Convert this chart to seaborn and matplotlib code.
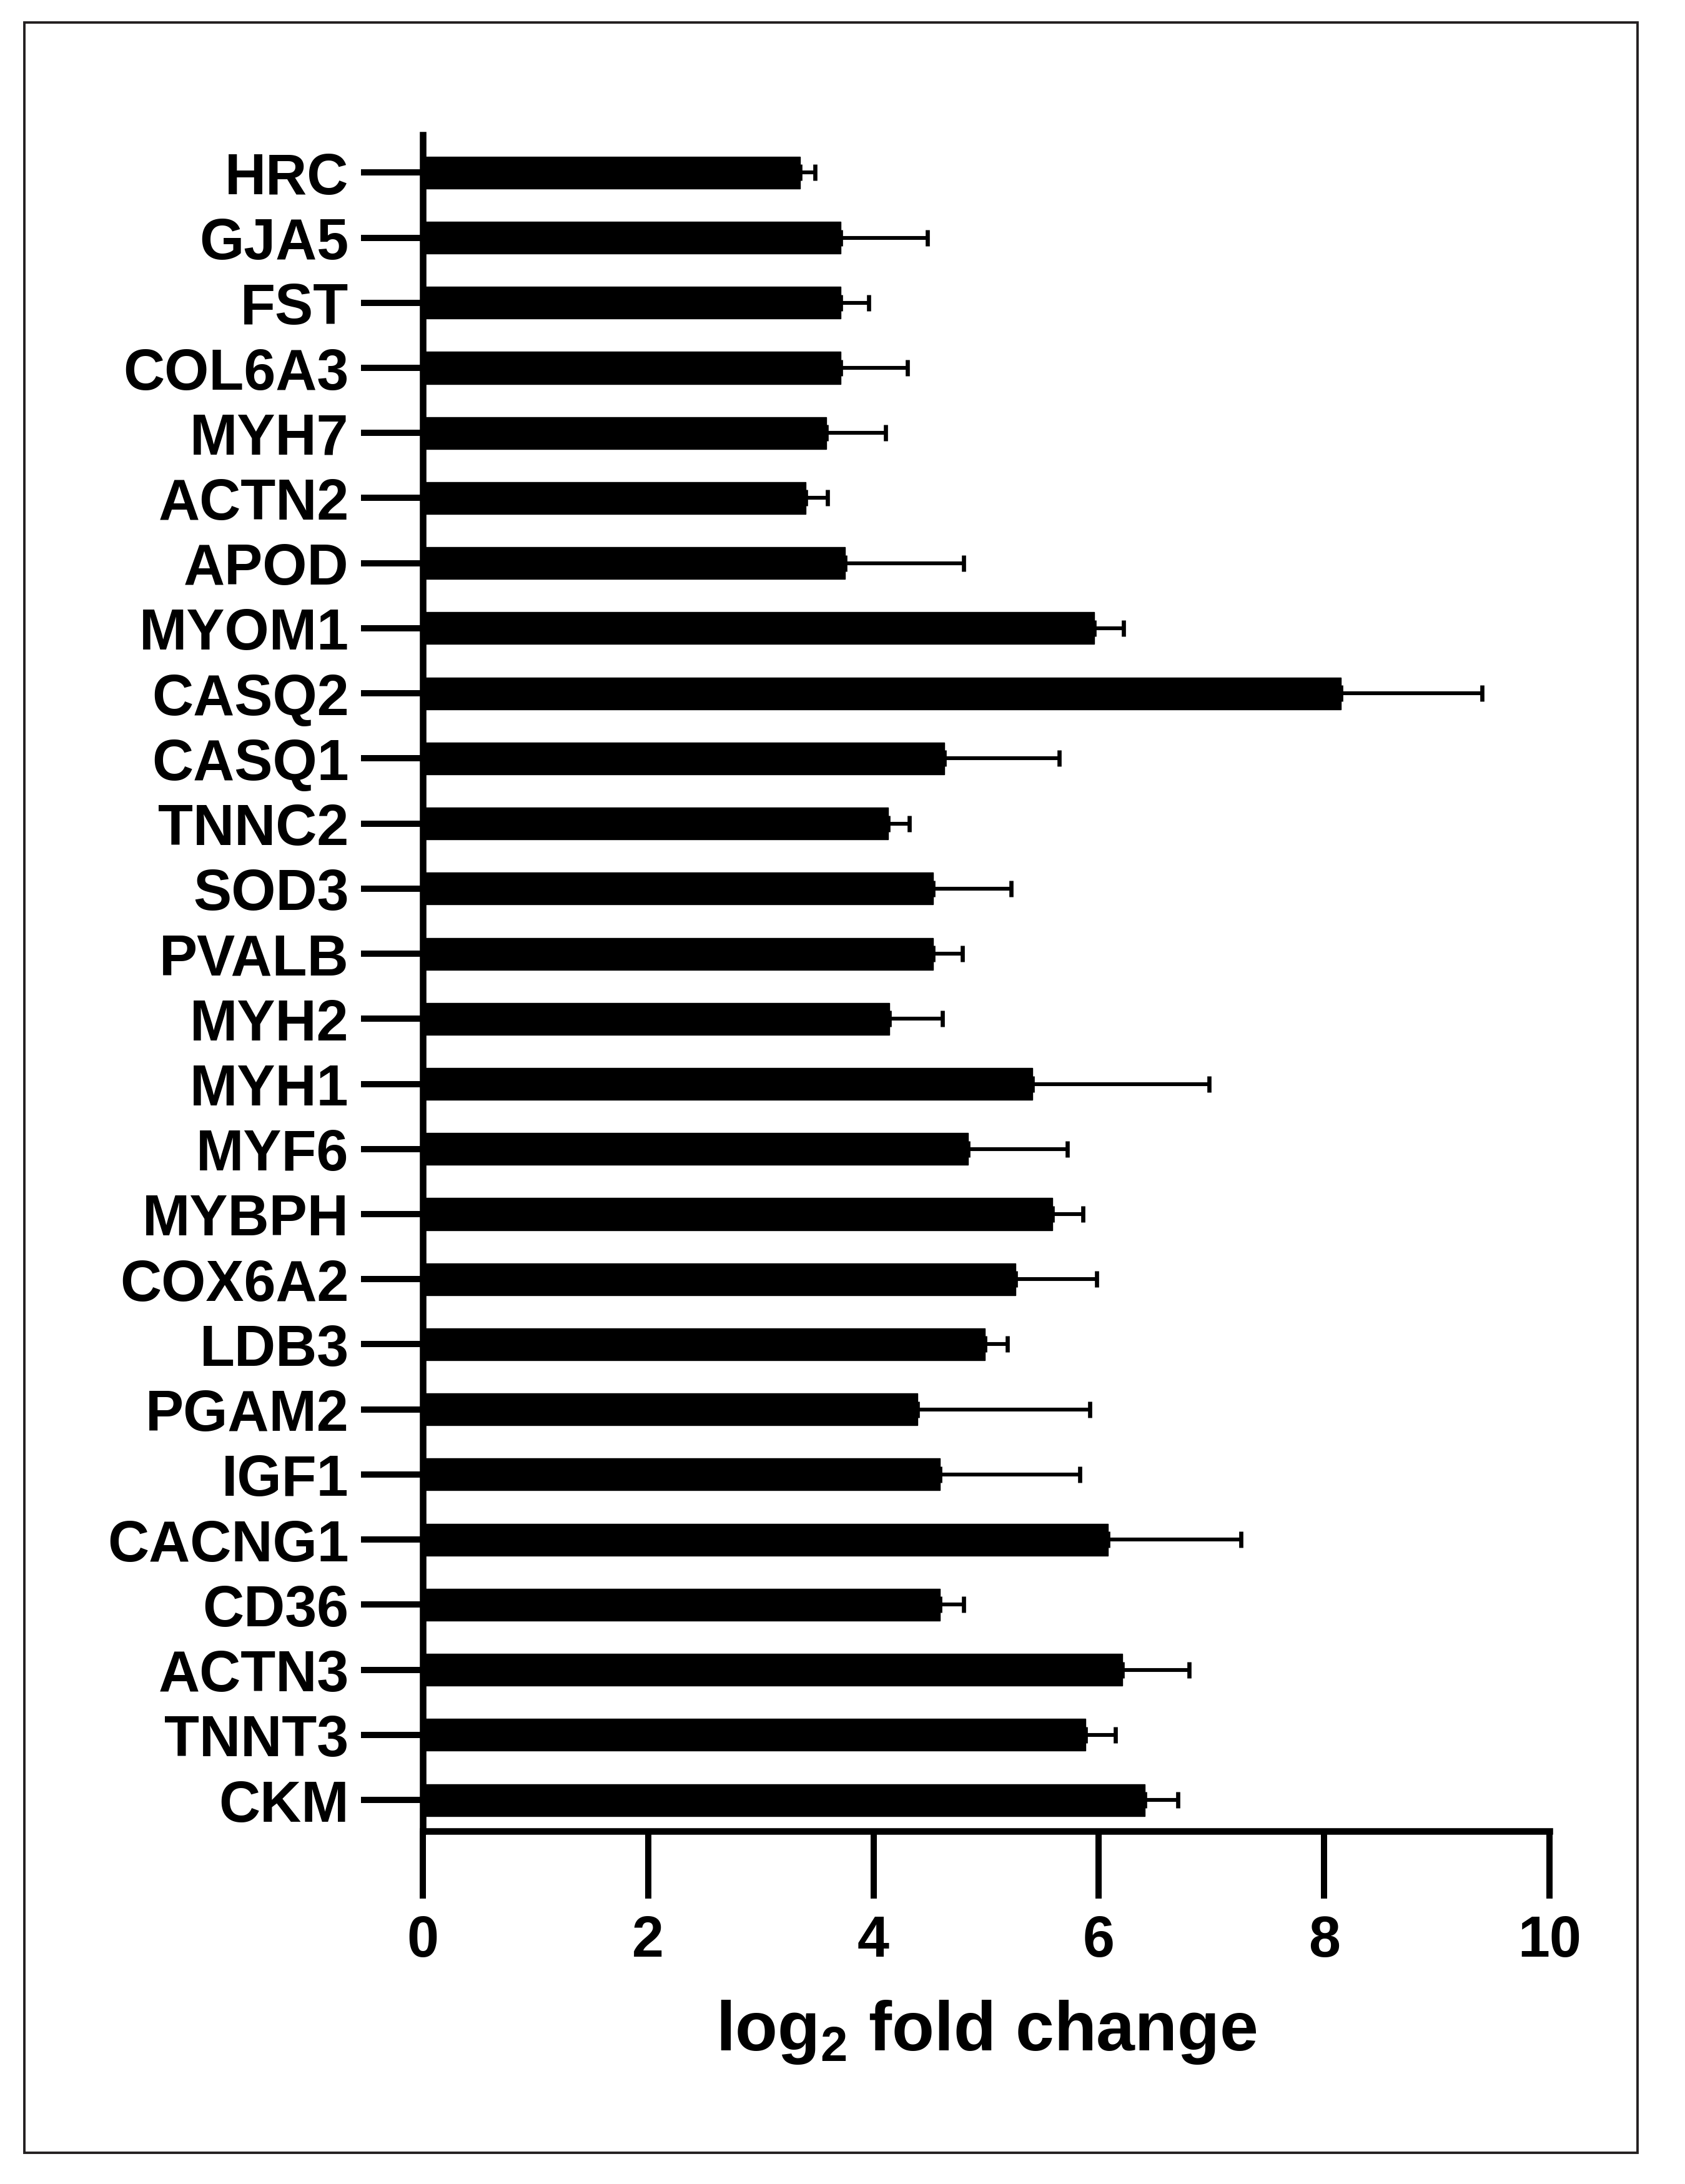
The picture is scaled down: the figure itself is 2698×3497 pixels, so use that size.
import numpy as np
import pandas as pd
import matplotlib
matplotlib.use("Agg")
import matplotlib.pyplot as plt
import seaborn as sns
from matplotlib.patches import Rectangle

genes = ["HRC", "GJA5", "FST", "COL6A3", "MYH7", "ACTN2", "APOD", "MYOM1",
         "CASQ2", "CASQ1", "TNNC2", "SOD3", "PVALB", "MYH2", "MYH1", "MYF6",
         "MYBPH", "COX6A2", "LDB3", "PGAM2", "IGF1", "CACNG1", "CD36",
         "ACTN3", "TNNT3", "CKM"]
log2fc = [3.35, 3.71, 3.71, 3.71, 3.58, 3.40, 3.75, 5.96,
          8.15, 4.63, 4.13, 4.53, 4.53, 4.14, 5.41, 4.84,
          5.59, 5.26, 4.99, 4.39, 4.59, 6.08, 4.59,
          6.21, 5.88, 6.41]
sem = [0.13, 0.77, 0.25, 0.59, 0.53, 0.19, 1.05, 0.26,
       1.25, 1.02, 0.19, 0.69, 0.26, 0.47, 1.57, 0.88,
       0.27, 0.72, 0.20, 1.53, 1.24, 1.18, 0.21,
       0.59, 0.27, 0.29]
xticks = [0, 2, 4, 6, 8, 10]

sns.set_style("ticks")
plt.rcParams['font.family'] = ['Liberation Sans', 'DejaVu Sans']
plt.rcParams['font.weight'] = 'bold'
plt.rcParams['text.color'] = 'black'
plt.rcParams['axes.labelcolor'] = 'black'
plt.rcParams['mathtext.fontset'] = 'custom'
plt.rcParams['mathtext.rm'] = 'Liberation Sans:bold'
plt.rcParams['mathtext.bf'] = 'Liberation Sans:bold'
plt.rcParams['mathtext.it'] = 'Liberation Sans:bold'

df = pd.DataFrame({"gene": genes, "log2fc": log2fc, "sem": sem})

fig = plt.figure(figsize=(13.49, 17.49), dpi=200)
ax = fig.add_axes([0.2509, 0.1615, 0.6687, 0.7765])

sns.barplot(data=df, x="log2fc", y="gene", orient="h", color="black",
            width=0.49, errorbar=None, ax=ax, edgecolor="black", linewidth=0.5)

# one-sided error bars (right side only)
pos = np.arange(len(genes))
ax.errorbar(df["log2fc"], pos, xerr=[np.zeros(len(sem)), df["sem"]],
            fmt="none", ecolor="black", elinewidth=2.2, capsize=4.7,
            capthick=2.4, zorder=1)

ax.set_xlim(0, 10)
ax.set_ylim(len(genes) - 1 + 0.48, -0.58)
ax.set_xticks(xticks)
ax.set_xticklabels([str(t) for t in xticks])

sns.despine(ax=ax)
for side in ["left", "bottom"]:
    ax.spines[side].set_linewidth(3.8)
    ax.spines[side].set_color("black")

ax.tick_params(axis="y", length=35.6, width=3.6, pad=7, labelsize=33,
               colors="black", labelcolor="black")
ax.tick_params(axis="x", length=39, width=3.6, pad=9, labelsize=33,
               colors="black", labelcolor="black")
for lab in ax.get_xticklabels() + ax.get_yticklabels():
    lab.set_fontweight("bold")

ax.set_ylabel("")
ax.set_xlabel(r"log$_{\mathbf{2}}$ fold change", fontsize=40, fontweight="bold",
              labelpad=17, color="black")

# thin frame around the whole figure
fig.patches.append(Rectangle((39 / 2698, 1 - 3448 / 3498), (2622 - 39) / 2698, (3448 - 37) / 3498,
                             transform=fig.transFigure, fill=False,
                             edgecolor="#231f20", linewidth=1.4))

fig.savefig("out.png", dpi=200, facecolor="white")
